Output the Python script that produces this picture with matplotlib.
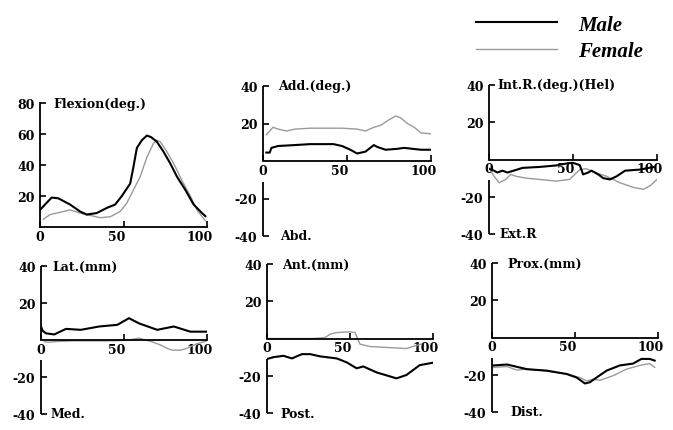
import matplotlib.pyplot as plt
import matplotlib.transforms as mtransforms
from matplotlib.lines import Line2D

plt.rcParams['font.family'] = ['DejaVu Serif']
plt.rcParams['font.weight'] = 'bold'
plt.rcParams['axes.unicode_minus'] = False

# ---- data (x = % gait cycle) ----
flex_m_x = [0, 3, 7, 11, 18, 24, 28, 34, 40, 45, 49, 54, 56, 58, 61, 64, 66.5, 70, 74, 78, 82, 87, 92, 97, 99]
flex_m_y = [11, 14.5, 19, 18.5, 14.5, 10, 8, 9, 12.3, 14.5, 20, 28, 39, 51, 56, 59, 58, 55, 48.5, 41, 32.5, 24, 14.5, 9, 7]
flex_f_x = [2, 6, 12, 18, 24, 30, 36, 42, 48, 52, 56, 60, 64, 68, 70, 72, 76, 80, 85, 90, 94, 99]
flex_f_y = [5, 8, 9.5, 11, 9, 7.5, 6, 6.6, 10, 15.5, 24, 32.5, 45, 54, 56, 55, 48.5, 41, 30, 20, 11, 4]

add_m_x = [2, 4, 5, 9, 19, 28, 42, 47, 52, 56, 61, 66, 68, 73, 80, 84, 94, 100]
add_m_y = [4.5, 4.5, 7, 8, 8.5, 9, 9, 8, 6, 4, 5, 8.5, 7.5, 6, 6.5, 7, 6, 6]
add_f_x = [2, 3, 6, 9, 14, 19, 28, 37, 47, 56, 61, 66, 70, 75, 79, 82, 86, 90, 94, 100]
add_f_y = [14, 15, 18, 17, 16, 17, 17.5, 17.5, 17.5, 17, 16, 18, 19, 22, 24, 23, 20, 18, 15, 14.5]

rot_m_x = [0, 3, 5, 8, 11, 20, 30, 40, 47, 50, 54, 56, 59, 61, 65, 68, 72, 76, 81, 90, 98]
rot_m_y = [-5, -6, -7, -6, -7, -4.5, -4, -3.2, -2, -1.8, -3, -8, -7, -6, -8, -10, -10.7, -9, -6, -5.4, -4]
rot_f_x = [0, 3, 6, 10, 13, 16, 22, 30, 40, 48, 54, 58, 63, 70, 78, 86, 92, 96, 100]
rot_f_y = [-4.5, -9, -12.5, -10.7, -8, -9, -10, -10.7, -11.6, -10.7, -5.4, -5, -7, -9, -12.5, -15, -16, -14, -10.7]

lat_m_x = [0, 1, 3, 8, 15, 24, 35, 46, 53, 59, 70, 80, 90, 100]
lat_m_y = [7.3, 5, 3.6, 3, 6, 5.5, 7.3, 8.2, 11.8, 9, 5.5, 7.3, 4.5, 4.5]
lat_f_x = [2, 5, 10, 19, 29, 38, 48, 53, 59, 67, 72, 76, 79, 84, 88, 94, 100]
lat_f_y = [-1, -1.2, -0.8, -0.5, -0.5, -0.5, -0.3, 0, 1, -1, -2.7, -4.5, -5.5, -5.5, -4.5, -2, -0.5]

ant_m_x = [0, 4, 10, 15, 21, 26, 32, 42, 48, 54, 58, 66, 78, 84, 92, 100]
ant_m_y = [-11, -10, -9.3, -10.7, -8.4, -8.4, -9.6, -10.7, -12.8, -16, -15, -18.2, -21.4, -19.6, -14.3, -13]
ant_f_x = [0, 9, 19, 28, 35, 38, 42, 50, 53, 56, 62, 72, 84, 89, 93]
ant_f_y = [0, 0, 0, 0, 0.5, 2.3, 3.2, 3.6, 3.2, -3, -4.3, -4.8, -5.4, -4, -3]

prox_m_x = [1, 9, 21, 33, 45, 51, 56, 59, 63, 69, 77, 85, 90, 95, 98]
prox_m_y = [-15, -14.5, -17, -17.8, -19.6, -21.5, -24.7, -24, -21.5, -17.8, -15, -14, -11.5, -11.5, -12.4]
prox_f_x = [1, 9, 15, 21, 33, 45, 53, 57, 61, 65, 73, 81, 89, 95, 98]
prox_f_y = [-16, -15.6, -17.5, -17, -18, -19.6, -21.5, -23.3, -22.4, -23, -20.5, -17, -15, -14, -16]

x_ticks = [0, 50, 100]
x_tick_labels = ['0', '50', '100']
titles = ['Flexion(deg.)', 'Add.(deg.)', 'Int.R.(deg.)(Hel)', 'Lat.(mm)', 'Ant.(mm)', 'Prox.(mm)']
bottom_labels = [None, 'Abd.', 'Ext.R', 'Med.', 'Post.', 'Dist.']
series = [
    (flex_m_x, flex_m_y, flex_f_x, flex_f_y),
    (add_m_x, add_m_y, add_f_x, add_f_y),
    (rot_m_x, rot_m_y, rot_f_x, rot_f_y),
    (lat_m_x, lat_m_y, lat_f_x, lat_f_y),
    (ant_m_x, ant_m_y, ant_f_x, ant_f_y),
    (prox_m_x, prox_m_y, prox_f_x, prox_f_y),
]

MALE_C = 'black'
FEMALE_C = '#9a9a9a'
W, H = 673, 431
FS = 9

# pixel boxes: x of 0, x of 100, y of top, y of bottom
boxes = [
    (40, 207, 104, 228),
    (263, 431, 87, 237),
    (489, 657, 86, 235),
    (41, 207, 267, 415),
    (267, 433, 265, 414),
    (492, 658, 264, 413),
]
title_x = [8, 9, 5, 7, 9, 9]
bottom_x = [0, 10, 6, 6, 8, 11]

fig = plt.figure(figsize=(W / 100, H / 100), dpi=100)

for i, (box, (mx, my, fx, fy)) in enumerate(zip(boxes, series)):
    x0, x1, yt, yb = box
    ax = fig.add_axes([x0 / W, 1 - yb / H, (x1 - x0) / W, (yb - yt) / H])
    ax.patch.set_alpha(0)
    ax.plot(fx, fy, color=FEMALE_C, lw=1.0, zorder=2)
    ax.plot(mx, my, color=MALE_C, lw=1.5, zorder=3)
    ax.set_xlim(0, 100)
    for s in ('top', 'right'):
        ax.spines[s].set_visible(False)
    ax.spines['bottom'].set_linewidth(1.3)
    ax.spines['left'].set_linewidth(1.3)
    if i == 0:
        ax.set_ylim(0, 80)
        ax.set_yticks([20, 40, 60, 80])
        ytop = 80
    else:
        ax.set_ylim(-40, 40)
        ax.set_yticks([-40, -20, 20, 40])
        ax.spines['left'].set_visible(False)
        ax.spines['bottom'].set_position(('data', 0))
        ax.plot([0, 0], [0, 40], color='k', lw=1.3, clip_on=False, solid_capstyle='butt')
        ax.plot([0, 0], [-11, -40], color='k', lw=1.3, clip_on=False, solid_capstyle='butt')
        ytop = 40
        ax.text(bottom_x[i], -40, bottom_labels[i], fontsize=FS, va='center', ha='left')
    ax.text(title_x[i], ytop, titles[i], fontsize=FS, va='center', ha='left')
    ax.set_xticks(x_ticks)
    ax.set_xticklabels(x_tick_labels)
    ax.tick_params(axis='y', direction='in', length=4, width=1.2, pad=4, labelsize=FS)
    ax.tick_params(axis='x', direction='in', length=4, width=1.2, pad=2, labelsize=FS)
    for lab in ax.get_xticklabels()[1:]:
        lab.set_transform(lab.get_transform() + mtransforms.ScaledTranslation(-7 / 100, 0, fig.dpi_scale_trans))

handles = [Line2D([], [], color=MALE_C, lw=1.5), Line2D([], [], color=FEMALE_C, lw=1.0)]
fig.legend(handles, ['Male', 'Female'], loc='upper left', bbox_to_anchor=(457 / W, 1 + 3 / H),
           frameon=False, handlelength=3.9, handletextpad=1.0, labelspacing=0.3,
           prop={'family': 'Liberation Serif', 'style': 'italic', 'weight': 'bold', 'size': 15})

fig.savefig('out.png', dpi=100)
